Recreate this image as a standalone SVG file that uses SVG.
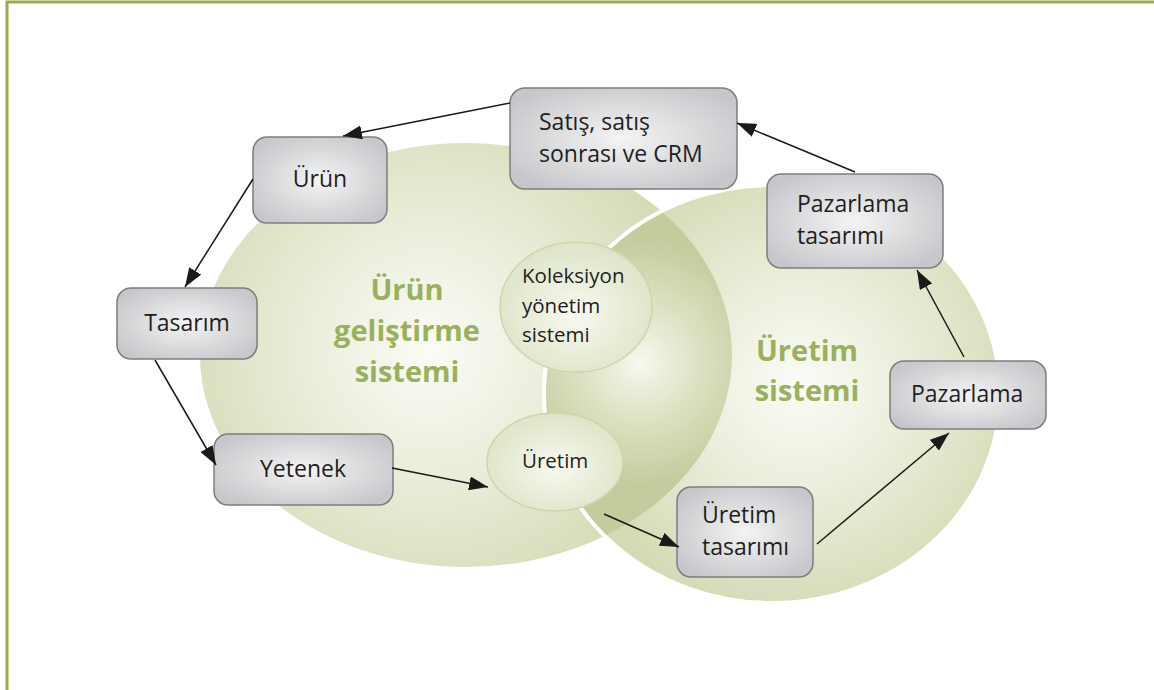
<svg xmlns="http://www.w3.org/2000/svg" width="1154" height="690" viewBox="0 0 1154 690">
  <defs>
    <radialGradient id="gLeft" gradientUnits="userSpaceOnUse" cx="430" cy="350" r="270">
      <stop offset="0" stop-color="#fbfcf7"/>
      <stop offset="0.45" stop-color="#eaeedb"/>
      <stop offset="1" stop-color="#d3dbb4"/>
    </radialGradient>
    <radialGradient id="gRight" gradientUnits="userSpaceOnUse" cx="800" cy="385" r="235">
      <stop offset="0" stop-color="#fbfcf7"/>
      <stop offset="0.45" stop-color="#eaeedb"/>
      <stop offset="1" stop-color="#d3dbb4"/>
    </radialGradient>
    <radialGradient id="gLens" gradientUnits="userSpaceOnUse" cx="640" cy="362" r="125">
      <stop offset="0" stop-color="#f7f8ef"/>
      <stop offset="0.5" stop-color="#dae1c0"/>
      <stop offset="1" stop-color="#c2cc9c"/>
    </radialGradient>
    <radialGradient id="gSmall" cx="0.5" cy="0.55" r="0.55">
      <stop offset="0" stop-color="#f8f9f1"/>
      <stop offset="1" stop-color="#dde4c6"/>
    </radialGradient>
    <radialGradient id="gBox" cx="0.5" cy="0.5" r="0.6">
      <stop offset="0" stop-color="#f4f4f5"/>
      <stop offset="1" stop-color="#c6c7ca"/>
    </radialGradient>
    <clipPath id="clipRight">
      <ellipse cx="772" cy="394" rx="228" ry="209"/>
    </clipPath>
    <marker id="arrow" markerUnits="userSpaceOnUse" markerWidth="20" markerHeight="14" refX="19" refY="7" orient="auto">
      <path d="M0,0 L19,7 L0,14 Z" fill="#1a1a1a"/>
    </marker>
  </defs>

  <style>
    .frame { fill: none; stroke: #9aab4c; stroke-width: 3; }
    .box { fill: url(#gBox); stroke: #7d7e80; stroke-width: 1.5; }
    .small { fill: url(#gSmall); stroke: #ccd6a8; stroke-width: 1.5; }
    .lbl { font-family: "Open Sans", "Liberation Sans", sans-serif; font-size: 23px; fill: #1e1e1e; }
    .lblS { font-family: "Open Sans", "Liberation Sans", sans-serif; font-size: 20.5px; fill: #1e1e1e; }
    .big { font-family: "Open Sans", "Liberation Sans", sans-serif; font-size: 29px; font-weight: bold; fill: #9ab05d; text-anchor: middle; }
    .c { text-anchor: middle; }
    .conn line { stroke: #1a1a1a; stroke-width: 1.5; marker-end: url(#arrow); }
  </style>

  <rect width="1154" height="690" fill="#ffffff"/>
  <rect class="frame" x="7" y="2" width="1160" height="700"/>

  <!-- Two overlapping system areas -->
  <g id="system-product">
    <ellipse cx="466" cy="355" rx="266" ry="212" fill="url(#gLeft)"/>
    <text class="big" x="407" y="300">Ürün</text>
    <text class="big" x="407" y="341">geliştirme</text>
    <text class="big" x="407" y="382">sistemi</text>
  </g>
  <g id="system-production">
    <ellipse cx="772" cy="394" rx="228" ry="209" fill="url(#gRight)"/>
    <ellipse cx="466" cy="355" rx="266" ry="212" fill="url(#gLens)" clip-path="url(#clipRight)"/>
    <ellipse cx="772" cy="394" rx="228" ry="209" fill="none" stroke="#ffffff" stroke-width="4"/>
    <text class="big" x="807" y="361">Üretim</text>
    <text class="big" x="807" y="401">sistemi</text>
  </g>

  <!-- Shared elements in the overlap -->
  <g id="node-koleksiyon">
    <ellipse class="small" cx="576" cy="307" rx="76" ry="65"/>
    <text class="lblS" x="522" y="283">Koleksiyon</text>
    <text class="lblS" x="522" y="313">yönetim</text>
    <text class="lblS" x="522" y="342">sistemi</text>
  </g>
  <g id="node-uretim">
    <ellipse class="small" cx="555" cy="462" rx="68" ry="49"/>
    <text class="lblS" x="522" y="468">Üretim</text>
  </g>

  <!-- Process boxes -->
  <g id="node-satis">
    <rect class="box" x="510" y="88" width="227" height="101" rx="15"/>
    <text class="lbl" x="539" y="130">Satış, satış</text>
    <text class="lbl" x="539" y="162">sonrası ve CRM</text>
  </g>
  <g id="node-urun">
    <rect class="box" x="253" y="137" width="134" height="86" rx="14"/>
    <text class="lbl c" x="320" y="187">Ürün</text>
  </g>
  <g id="node-tasarim">
    <rect class="box" x="117" y="288" width="140" height="71" rx="14"/>
    <text class="lbl c" x="187" y="331">Tasarım</text>
  </g>
  <g id="node-yetenek">
    <rect class="box" x="214" y="434" width="179" height="71" rx="14"/>
    <text class="lbl c" x="303" y="477">Yetenek</text>
  </g>
  <g id="node-uretim-tasarimi">
    <rect class="box" x="677" y="487" width="136" height="90" rx="14"/>
    <text class="lbl" x="702" y="523">Üretim</text>
    <text class="lbl" x="702" y="555">tasarımı</text>
  </g>
  <g id="node-pazarlama">
    <rect class="box" x="890" y="361" width="156" height="68" rx="14"/>
    <text class="lbl" x="911" y="402">Pazarlama</text>
  </g>
  <g id="node-pazarlama-tasarimi">
    <rect class="box" x="767" y="174" width="176" height="94" rx="14"/>
    <text class="lbl" x="797" y="212">Pazarlama</text>
    <text class="lbl" x="797" y="244">tasarımı</text>
  </g>

  <!-- Connectors -->
  <g class="conn" id="connectors">
    <line x1="510" y1="103" x2="343" y2="136"/>
    <line x1="253" y1="179" x2="185" y2="287"/>
    <line x1="155" y1="360" x2="216" y2="465"/>
    <line x1="392" y1="468" x2="488" y2="487"/>
    <line x1="604" y1="514" x2="679" y2="547"/>
    <line x1="817" y1="544" x2="949" y2="433"/>
    <line x1="964" y1="357" x2="917" y2="270"/>
    <line x1="855" y1="172" x2="737" y2="123"/>
  </g>
</svg>
